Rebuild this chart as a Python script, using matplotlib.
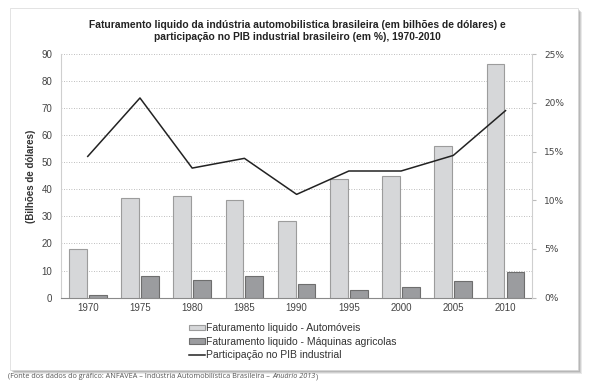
import numpy as np
import matplotlib.pyplot as plt
from matplotlib.patches import Rectangle
from matplotlib.ticker import FuncFormatter

anos = ['1970', '1975', '1980', '1985', '1990', '1995', '2000', '2005', '2010']
automoveis = [17.9, 36.8, 37.7, 36.0, 28.5, 43.8, 45.0, 56.1, 86.2]
maquinas = [0.8, 8.0, 6.5, 7.9, 4.9, 2.8, 4.1, 6.3, 9.6]
pib = [14.5, 20.5, 13.3, 14.3, 10.6, 13.0, 13.0, 14.6, 19.2]

plt.rcParams['font.family'] = ['Liberation Sans', 'DejaVu Sans']

fig = plt.figure(figsize=(5.94, 3.84), dpi=100)

# caixa branca com sombra
for i, a in enumerate([0.15, 0.2, 0.25, 0.3]):
    d = 4 - i
    fig.patches.append(Rectangle(((10 + d) / 594, 1 - (370 + d) / 384), 568 / 594, 362 / 384,
                                 transform=fig.transFigure, facecolor='#707070',
                                 edgecolor='none', zorder=0, alpha=a))
fig.patches.append(Rectangle((10 / 594, 1 - 370 / 384), 568 / 594, 362 / 384,
                             transform=fig.transFigure, facecolor='white',
                             edgecolor='#d8d8d8', linewidth=0.5, zorder=1))

ax = fig.add_axes([0.102, 0.225, 0.793, 0.634])
ax.set_zorder(2)
ax.patch.set_visible(False)

x = np.arange(len(anos))
w = 0.34
ax.bar(x - 0.19, automoveis, w, color='#d6d7d9', edgecolor='#9c9c9c', linewidth=0.8,
       label='Faturamento liquido - Automóveis', zorder=3)
ax.bar(x + 0.19, maquinas, w, color='#9b9c9f', edgecolor='#6e6e6e', linewidth=0.8,
       label='Faturamento liquido - Máquinas agricolas', zorder=3)

ax.set_xlim(-0.52, 8.5)
ax.set_ylim(0, 90)
ax.set_yticks(range(0, 91, 10))
ax.set_xticks(x)
ax.set_xticklabels(anos)
ax.yaxis.grid(True, linestyle=(0, (1, 2)), color='#a8a8a8', linewidth=0.6, zorder=0)
ax.tick_params(axis='both', length=0, labelsize=7, colors='#444444', pad=6)
ax.tick_params(axis='x', pad=4)
for s in ['top', 'right']:
    ax.spines[s].set_visible(False)
ax.spines['left'].set_color('#cfcfcf')
ax.spines['bottom'].set_color('#8a8a8a')
ax.set_ylabel('(Bilhões de dólares)', fontsize=7, fontweight='bold', color='#333333', labelpad=4)

ax2 = ax.twinx()
ax2.set_zorder(3)
ln, = ax2.plot(x, pib, color='#222222', linewidth=1.1, label='Participação no PIB industrial')
ax2.set_ylim(0, 25)
ax2.set_yticks(range(0, 26, 5))
ax2.yaxis.set_major_formatter(FuncFormatter(lambda v, p: '%d%%' % v))
ax2.tick_params(axis='y', length=3, color='#bbbbbb', labelsize=7, colors='#444444', pad=6)
for lab in ax2.get_yticklabels():
    lab.set_family('DejaVu Sans')
    lab.set_fontsize(6.5)
for s in ['top', 'left', 'bottom']:
    ax2.spines[s].set_visible(False)
ax2.spines['right'].set_color('#cfcfcf')

h1, l1 = ax.get_legend_handles_labels()
fig.legend(h1 + [ln], l1 + [ln.get_label()], loc='upper left',
           bbox_to_anchor=(184 / 594, 1 - 318 / 384), frameon=False, fontsize=7.5,
           handlelength=1.5, handleheight=0.5, handletextpad=0.1, labelspacing=0.35,
           borderpad=0, labelcolor='#333333')

fig.text(0.5, 1 - 25 / 384,
         'Faturamento liquido da indústria automobilistica brasileira (em bilhões de dólares) e',
         ha='center', va='center', fontsize=7.4, fontweight='bold', color='#222222')
fig.text(0.5, 1 - 37 / 384,
         'participação no PIB industrial brasileiro (em %), 1970-2010',
         ha='center', va='center', fontsize=7.4, fontweight='bold', color='#222222')

# fonte: partes normal / itálico postas lado a lado
renderer = fig.canvas.get_renderer()
xpos = 8
partes = [('(Fonte dos dados do gráfico: ANFAVEA – Indústria Automobilística Brasileira – ', 'normal'),
          ('Anuário 2013', 'italic'), (')', 'normal')]
for txt, st in partes:
    t = fig.text(xpos / 594, 1 - 377 / 384, txt, ha='left', va='center', fontsize=5.2,
                 color='#555555', family='Open Sans', style=st)
    xpos += t.get_window_extent(renderer).width + 0.5

fig.savefig('out.png', dpi=100)
